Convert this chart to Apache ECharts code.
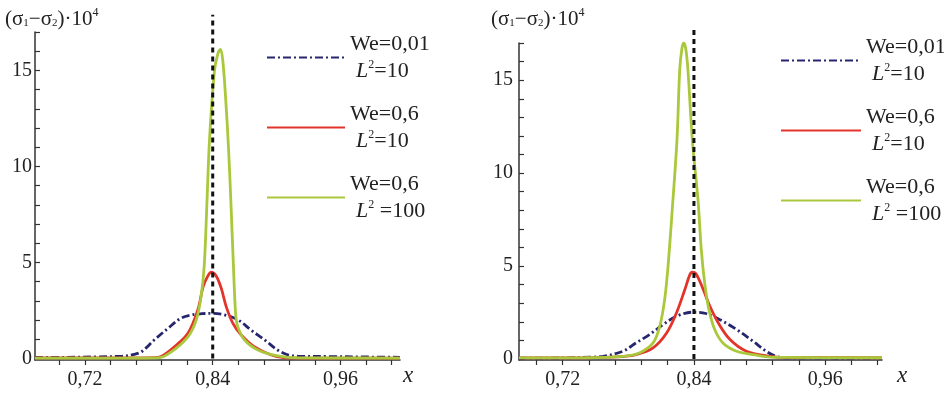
<!DOCTYPE html>
<html>
<head>
<meta charset="utf-8">
<script src="https://cdn.jsdelivr.net/npm/echarts@6/dist/echarts.min.js"></script>
<style>
html,body{margin:0;padding:0;background:#fff;}
#c{width:944px;height:395px;}
</style>
</head>
<body>
<div id="c"></div>
<script>
// ---------- data ----------
var seriesNames = ['We=0,01 L2=10', 'We=0,6 L2=10', 'We=0,6 L2=100'];
var legendLine1 = ['We=0,01', 'We=0,6', 'We=0,6'];
var legendLine2 = ['=10', '=10', ' =100'];

var xTickValuesLeft = [0.696, 0.72, 0.744, 0.768, 0.792, 0.816, 0.84, 0.864, 0.888, 0.912, 0.936, 0.96, 0.984, 1.008];
var xTickValuesRight = [0.696, 0.72, 0.744, 0.768, 0.792, 0.816, 0.84, 0.864, 0.888, 0.912, 0.936, 0.96, 0.984, 1.008];
var xLabelValues = [0.72, 0.84, 0.96];
var yTickValues = [0, 1, 2, 3, 4, 5, 6, 7, 8, 9, 10, 11, 12, 13, 14, 15, 16, 17];
var yLabelValues = [0, 5, 10, 15];
var markX = [0.84, 0.84];
var markYLeft = [0, 17.9];
var markYRight = [0, 17.7];

// left panel
var L_blueX = [0.673, 0.700, 0.730, 0.755, 0.765, 0.773, 0.785, 0.798, 0.810, 0.820, 0.830, 0.840, 0.851, 0.864, 0.876, 0.889, 0.901, 0.911, 0.920, 0.950, 0.980, 1.016];
var L_blueY = [0.05, 0.06, 0.08, 0.12, 0.20, 0.35, 0.96, 1.57, 2.09, 2.27, 2.33, 2.35, 2.27, 2.00, 1.48, 0.96, 0.44, 0.18, 0.12, 0.10, 0.08, 0.06];
var L_redX = [0.673, 0.760, 0.785, 0.7915, 0.804, 0.8167, 0.826, 0.831, 0.8355, 0.8386, 0.8433, 0.848, 0.8527, 0.859, 0.8668, 0.879, 0.895, 0.908, 0.950, 1.016];
var L_redY = [0.03, 0.03, 0.04, 0.10, 0.61, 1.31, 2.53, 3.74, 4.30, 4.50, 4.30, 3.66, 2.70, 1.83, 1.22, 0.61, 0.18, 0.03, 0.02, 0.02];
var L_greenX = [0.673, 0.760, 0.789, 0.800, 0.8167, 0.8245, 0.829, 0.832, 0.8345, 0.837, 0.8417, 0.845, 0.8473, 0.8495, 0.8522, 0.8548, 0.857, 0.8595, 0.8615, 0.8635, 0.870, 0.8825, 0.901, 0.920, 1.016];
var L_greenY = [0.02, 0.02, 0.03, 0.30, 1.13, 2.00, 3.20, 4.80, 8.00, 11.4, 15.0, 15.9, 16.1, 15.5, 13.5, 11.0, 8.25, 4.78, 2.35, 1.66, 0.96, 0.44, 0.13, 0.03, 0.02];

// right panel
var R_blueX = [0.680, 0.720, 0.745, 0.757, 0.775, 0.787, 0.7995, 0.8117, 0.824, 0.839, 0.851, 0.8637, 0.879, 0.894, 0.906, 0.915, 0.925, 0.960, 1.012];
var R_blueY = [0.05, 0.06, 0.10, 0.15, 0.42, 0.87, 1.32, 1.85, 2.30, 2.52, 2.45, 2.12, 1.59, 0.96, 0.42, 0.15, 0.07, 0.06, 0.05];
var R_redX = [0.680, 0.740, 0.770, 0.787, 0.8026, 0.815, 0.824, 0.8317, 0.8363, 0.8387, 0.8424, 0.8485, 0.8546, 0.8622, 0.873, 0.888, 0.909, 0.930, 1.012];
var R_redY = [0.06, 0.07, 0.12, 0.24, 0.60, 1.40, 2.48, 3.74, 4.54, 4.67, 4.54, 3.74, 2.84, 1.95, 1.05, 0.42, 0.15, 0.08, 0.07];
var R_greenX = [0.680, 0.740, 0.775, 0.790, 0.8026, 0.8087, 0.8132, 0.8163, 0.8208, 0.8245, 0.827, 0.829, 0.8306, 0.8325, 0.8345, 0.8385, 0.8437, 0.8467, 0.8498, 0.8537, 0.859, 0.8665, 0.879, 0.894, 0.910, 1.012];
var R_greenY = [0.06, 0.07, 0.15, 0.33, 0.87, 1.76, 3.20, 4.99, 8.57, 11.8, 15.56, 16.7, 17.0, 16.7, 15.56, 11.8, 8.57, 5.9, 4.1, 2.66, 1.59, 0.87, 0.42, 0.24, 0.10, 0.07];

// ---------- styles ----------
var SERIF = '"Liberation Serif", "DejaVu Serif", serif';
var colors = ['#26266e', '#e3342b', '#a9c83c'];
var dashes = [[8, 3, 2, 3], 'solid', 'solid'];
var AXC = '#333';

function zip(xs, ys) { return xs.map(function (x, i) { return [x, ys[i]]; }); }

var chart = echarts.init(document.getElementById('c'), null, { renderer: 'canvas' });

function xAxisCfg(gridIndex, min, max, ticks, nameGap) {
  return {
    type: 'value', gridIndex: gridIndex, min: min, max: max,
    axisLine: { show: true, onZero: false, lineStyle: { color: AXC, width: 1.5 } },
    axisTick: { show: true, inside: false, length: 5, customValues: ticks, lineStyle: { color: AXC, width: 1.2 } },
    axisLabel: {
      customValues: xLabelValues, margin: 10, color: '#222', fontFamily: SERIF, fontSize: 20,
      formatter: function (v) { return v.toFixed(2).replace('.', ','); }
    },
    splitLine: { show: false },
    name: 'x', nameLocation: 'end', nameGap: nameGap,
    nameTextStyle: { fontFamily: SERIF, fontStyle: 'italic', fontSize: 23, color: '#222', verticalAlign: 'top', padding: [4, 0, 0, 0] }
  };
}
function yAxisCfg(gridIndex, min, max, margin) {
  return {
    type: 'value', gridIndex: gridIndex, min: min, max: max,
    axisLine: { show: true, lineStyle: { color: AXC, width: 1.5 } },
    axisTick: { show: true, inside: true, length: 5, customValues: yTickValues, lineStyle: { color: AXC, width: 1.2 } },
    axisLabel: { customValues: yLabelValues, margin: margin, color: '#222', fontFamily: SERIF, fontSize: 20 },
    splitLine: { show: false }
  };
}

var richLegend = {
  a: { fontFamily: SERIF, fontSize: 22, color: '#222', lineHeight: 27 },
  i: { fontFamily: SERIF, fontSize: 22, fontStyle: 'italic', color: '#222', lineHeight: 27, padding: [0, 0, 0, 6] },
  s: { fontFamily: SERIF, fontSize: 12, color: '#222', padding: [0, 0, 13, 0] }
};
function legendFmt(name) {
  var k = seriesNames.indexOf(name);
  return '{a|' + legendLine1[k] + '}\n{i|L}{s|2}{a|' + legendLine2[k] + '}';
}
function legendCfg(left, top, w) {
  return {
    left: left, top: top, orient: 'vertical', itemWidth: w, itemHeight: 14, itemGap: 21,
    data: seriesNames, formatter: legendFmt, selectedMode: false,
    itemStyle: { opacity: 0 },
    textStyle: { rich: richLegend, fontFamily: SERIF, fontSize: 22 }
  };
}

var richTitle = {
  g: { fontFamily: SERIF, fontSize: 21, fontWeight: 'normal', color: '#222' },
  b: { fontFamily: SERIF, fontSize: 11, fontWeight: 'normal', color: '#222', padding: [9, 0, 0, 0] },
  p: { fontFamily: SERIF, fontSize: 12, fontWeight: 'normal', color: '#222', padding: [0, 0, 12, 0] }
};
var titleText = '{g|(σ}{b|1}{g|−σ}{b|2}{g|)·10}{p|4}';

function mkSeries(name, k, xi, data) {
  return {
    name: name, type: 'line', xAxisIndex: xi, yAxisIndex: xi, data: data,
    symbol: 'none', smooth: 0.35,
    lineStyle: { color: colors[k], width: 2.8, type: dashes[k] },
    itemStyle: { color: colors[k] },
    z: 2 + k
  };
}
function dotted(xi, ys) {
  return {
    name: 'marker', type: 'line', xAxisIndex: xi, yAxisIndex: xi, data: zip(markX, ys),
    symbol: 'none', clip: false, silent: true, z: 10,
    lineStyle: { color: '#111', width: 3, type: [5, 4] }
  };
}

var option = {
  backgroundColor: '#fff',
  animation: false,
  title: [
    { text: titleText, left: 0, top: 2, textStyle: { fontWeight: 'normal', rich: richTitle } },
    { text: titleText, left: 486, top: 2, textStyle: { fontWeight: 'normal', rich: richTitle } }
  ],
  legend: [legendCfg(261, 28, 78), legendCfg(775, 31, 80)],
  grid: [
    { left: 35, width: 365, top: 32, height: 328 },
    { left: 519, width: 363, top: 43, height: 317 }
  ],
  xAxis: [xAxisCfg(0, 0.673, 1.016, xTickValuesLeft, 3), xAxisCfg(1, 0.680, 1.012, xTickValuesRight, 15)],
  yAxis: [yAxisCfg(0, -0.08, 17, 3), yAxisCfg(1, -0.05, 17, 6)],
  series: [
    mkSeries(seriesNames[0], 0, 0, zip(L_blueX, L_blueY)),
    mkSeries(seriesNames[1], 1, 0, zip(L_redX, L_redY)),
    mkSeries(seriesNames[2], 2, 0, zip(L_greenX, L_greenY)),
    dotted(0, markYLeft),
    mkSeries(seriesNames[0], 0, 1, zip(R_blueX, R_blueY)),
    mkSeries(seriesNames[1], 1, 1, zip(R_redX, R_redY)),
    mkSeries(seriesNames[2], 2, 1, zip(R_greenX, R_greenY)),
    dotted(1, markYRight)
  ]
};
chart.setOption(option);
</script>
</body>
</html>
